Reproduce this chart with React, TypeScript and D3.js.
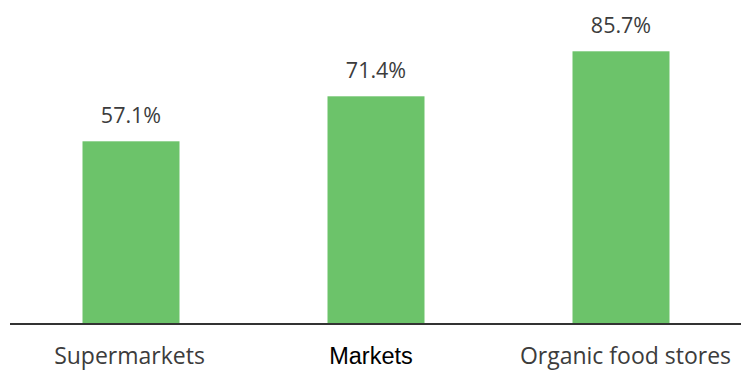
import React from "react";
import * as d3 from "d3";

const categories = ["Supermarkets", "Markets", "Organic food stores"];
const values = [57.1, 71.4, 85.7];
const valueLabels = ["57.1%", "71.4%", "85.7%"];

const W = 741;
const H = 372;

export default function App() {
  const x = d3.scalePoint<string>().domain(categories).range([131, 621]);
  const y = d3.scaleLinear().domain([0, 100]).range([321, 6.3]);
  const baseY = 324;
  const bw = 97;
  const labelShift = [-1.5, -5, 4.5];
  return (
    <svg width={W} height={H} style={{ position: "absolute", left: 0, top: 0, background: "#fff" }}>
      {categories.map((c, i) => (
        <rect key={c} x={(x(c) as number) - bw / 2} y={y(values[i])} width={bw} height={baseY - y(values[i])} fill="#6cc36a" />
      ))}
      <line x1={10} x2={741} y1={baseY} y2={baseY} stroke="#333" strokeWidth={2} />
      {categories.map((c, i) => (
        <text key={"v" + c} x={x(c) as number} y={y(values[i]) - 18} textAnchor="middle" fontFamily="Open Sans" fontSize={21.5} fontWeight={500} fill="#3c3c3c">
          {valueLabels[i]}
        </text>
      ))}
      {categories.map((c, i) => (
        <text
          key={"c" + c}
          x={(x(c) as number) + labelShift[i]}
          y={364}
          textAnchor="middle"
          fontFamily={i === 1 ? "Liberation Sans" : "Open Sans"}
          fontSize={i === 1 ? 23.5 : 23}
          fill={i === 1 ? "#000" : "#3c3c3c"}
        >
          {c}
        </text>
      ))}
    </svg>
  );
}
